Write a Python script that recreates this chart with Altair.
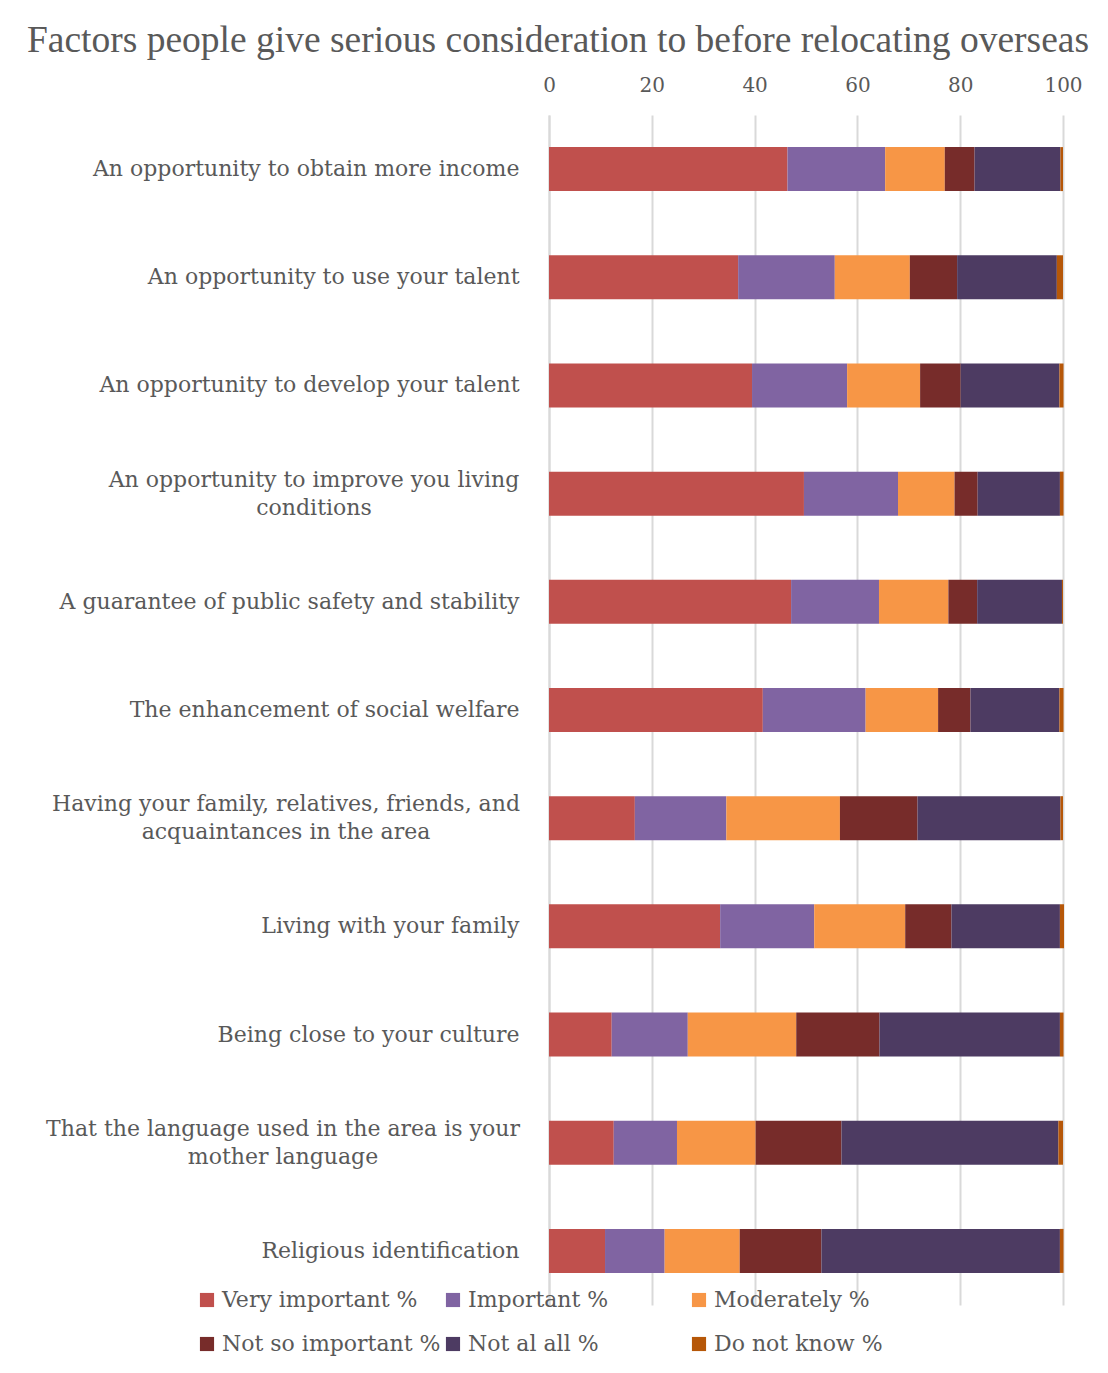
import altair as alt
import pandas as pd

categories = [
    "An opportunity to obtain more income",
    "An opportunity to use your talent",
    "An opportunity to develop your talent",
    "An opportunity to improve you living|conditions",
    "A guarantee of public safety and stability",
    "The enhancement of social welfare",
    "Having your family, relatives, friends, and|acquaintances in the area",
    "Living with your family",
    "Being close to your culture",
    "That the language used in the area is your|mother language",
    "Religious identification",
]
series = ["Very important  %", "Important %", "Moderately %",
          "Not so important %", "Not al all %", "Do not know %"]
colors = ["#C0504D", "#8064A2", "#F79646", "#772C2A", "#4D3B62", "#B65708"]

very_important = [46.4, 36.8, 39.5, 49.6, 47.1, 41.6, 16.7, 33.3, 12.2, 12.6, 10.9]
important = [19.0, 18.8, 18.5, 18.3, 17.1, 20.0, 17.8, 18.3, 14.8, 12.3, 11.6]
moderately = [11.6, 14.6, 14.2, 11.0, 13.5, 14.1, 22.1, 17.7, 21.1, 15.3, 14.6]
not_so_important = [5.8, 9.2, 7.9, 4.5, 5.6, 6.3, 15.1, 9.0, 16.2, 16.7, 15.9]
not_at_all = [16.7, 19.4, 19.2, 16.0, 16.5, 17.3, 27.8, 21.1, 35.1, 42.2, 46.4]
do_not_know = [0.5, 1.2, 0.8, 0.7, 0.2, 0.8, 0.5, 0.8, 0.7, 0.9, 0.7]

x_ticks = [0, 20, 40, 60, 80, 100]

values = [very_important, important, moderately, not_so_important, not_at_all, do_not_know]
rows = []
for si, (s, vals) in enumerate(zip(series, values)):
    for ci, (c, v) in enumerate(zip(categories, vals)):
        rows.append({"category": c, "series": s, "value": v, "order": si})
df = pd.DataFrame(rows)

FONT = "DejaVu Serif"
GRAY = "#595959"

# two-line labels are centred under their (right-aligned) first line
wrapped_pad = [
    {"test": f"datum.value === '{categories[3]}'", "value": 30 + 205.5},
    {"test": f"datum.value === '{categories[6]}'", "value": 30 + 233.5},
    {"test": f"datum.value === '{categories[9]}'", "value": 30 + 236.5},
]

chart = alt.Chart(df).mark_bar(size=44).encode(
    x=alt.X("value:Q", stack="zero",
            scale=alt.Scale(domain=[0, 100], nice=False),
            axis=alt.Axis(orient="top", values=x_ticks, title=None, ticks=False,
                          domain=False, labelFont=FONT, labelFontSize=20,
                          labelColor=GRAY, labelPadding=20, labelFlush=False,
                          gridColor="#d9d9d9", gridWidth=2)),
    y=alt.Y("category:N", sort=categories,
            scale=alt.Scale(paddingInner=0.59, paddingOuter=0.295),
            axis=alt.Axis(title=None, ticks=False, domainColor="#d9d9d9",
                          domainWidth=2, labelFont=FONT, labelFontSize=22,
                          labelColor=GRAY, labelLimit=700,
                          labelLineHeight=28,
                          labelPadding={"condition": wrapped_pad, "value": 30},
                          labelAlign={"condition": {"test": "indexof(datum.value, '|') >= 0",
                                                    "value": "center"},
                                      "value": "right"},
                          labelOffset={"condition": {"test": "indexof(datum.value, '|') >= 0",
                                                     "value": -14},
                                       "value": 0},
                          labelExpr="split(datum.label, '|')")),
    color=alt.Color("series:N", sort=series,
                    scale=alt.Scale(domain=series, range=colors),
                    legend=alt.Legend(title=None, orient="none", legendX=-353,
                                      legendY=1174, columns=3, direction="horizontal",
                                      gridAlign="all",
                                      symbolType="square", symbolSize=200,
                                      symbolStrokeWidth=0, labelFont=FONT,
                                      labelFontSize=22, labelColor=GRAY,
                                      columnPadding=1, rowPadding=22,
                                      labelOffset=4, labelLimit=400)),
    order=alt.Order("order:Q"),
).properties(
    width=514,
    height=1190,
    title=alt.TitleParams(
        "Factors people give serious consideration to before relocating overseas",
        anchor="middle", frame="group", dx=-248, font="Liberation Serif", fontSize=37.5,
        fontWeight="normal", color=GRAY, offset=16),
    autosize=alt.AutoSizeParams(type="none"),
    padding={"left": 549, "top": 115, "right": 45, "bottom": 68},
).configure_view(stroke=None)

chart.save("out.html", embed_options={"renderer": "svg", "actions": False})
